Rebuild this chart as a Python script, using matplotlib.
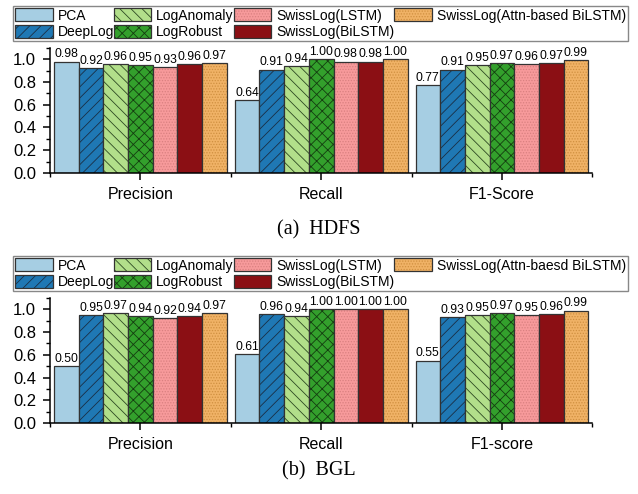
import numpy as np
import matplotlib.pyplot as plt
from matplotlib.patches import Patch
from matplotlib.legend_handler import HandlerTuple
from matplotlib.ticker import MultipleLocator, FixedLocator

plt.rcParams['font.family'] = ['Liberation Sans', 'DejaVu Sans']
plt.rcParams['hatch.linewidth'] = 0.6

metrics_hdfs = ["Precision", "Recall", "F1-Score"]
metrics_bgl = ["Precision", "Recall", "F1-score"]

methods_hdfs = ["PCA", "DeepLog", "LogAnomaly", "LogRobust", "SwissLog(LSTM)",
                "SwissLog(BiLSTM)", "SwissLog(Attn-based BiLSTM)"]
methods_bgl = ["PCA", "DeepLog", "LogAnomaly", "LogRobust", "SwissLog(LSTM)",
               "SwissLog(BiLSTM)", "SwissLog(Attn-baesd BiLSTM)"]

# rows = methods, cols = Precision / Recall / F1
hdfs = [
    [0.98, 0.64, 0.77],
    [0.92, 0.91, 0.91],
    [0.96, 0.94, 0.95],
    [0.95, 1.00, 0.97],
    [0.93, 0.98, 0.96],
    [0.96, 0.98, 0.97],
    [0.97, 1.00, 0.99],
]
bgl = [
    [0.50, 0.61, 0.55],
    [0.95, 0.96, 0.93],
    [0.97, 0.94, 0.95],
    [0.94, 1.00, 0.97],
    [0.92, 1.00, 0.95],
    [0.94, 1.00, 0.96],
    [0.97, 1.00, 0.99],
]

colors = ["#a6cee3", "#1f78b4", "#b2df8a", "#33a02c", "#f79a9b", "#8b0f14", "#f0b266"]
hatches = ["", "///", "\\\\\\", "xxx", "......", "", "......"]
hatch_colors = ["#333333", "#1a2f45", "#2d4a22", "#143d10", "#d98080", "#8b0f14", "#d09040"]
edge = "#333333"

fig = plt.figure(figsize=(6.38, 4.94), dpi=100)


def draw_panel(rect, values, metrics, methods, caption, cap_y, leg_rect):
    ax = fig.add_axes(rect)
    x = np.arange(len(metrics))
    w = 0.956 / len(methods)
    handles = []
    for i, (name, vals) in enumerate(zip(methods, values)):
        pos = x - 0.478 + w * (i + 0.5)
        ax.bar(pos, vals, w, color=colors[i], edgecolor=hatch_colors[i],
               hatch=hatches[i], linewidth=0)
        ax.bar(pos, vals, w, fill=False, edgecolor=edge, linewidth=0.9)
        for px, v in zip(pos, vals):
            ax.text(px, v + 0.01, f"{v:.2f}", ha="center", va="bottom", fontsize=8.7)
        handles.append((Patch(facecolor=colors[i], edgecolor=hatch_colors[i],
                              hatch=hatches[i], linewidth=0),
                        Patch(fill=False, edgecolor=edge, linewidth=0.9)))
    ax.set_xlim(-0.5, 2.5)
    ax.set_ylim(0, 1.1)
    ax.set_xticks(x)
    ax.set_xticklabels(metrics, fontsize=11.5)
    ax.xaxis.set_minor_locator(FixedLocator([-0.5, 0.5, 1.5, 2.5]))
    ax.yaxis.set_minor_locator(MultipleLocator(0.1))
    ax.set_yticks(np.arange(0, 1.01, 0.2))
    ax.set_yticklabels([f"{t:.1f}" for t in np.arange(0, 1.01, 0.2)], fontsize=12)
    ax.tick_params(which="major", length=5, width=1.1, pad=5)
    ax.tick_params(which="minor", length=3, width=1.0)
    ax.tick_params(axis="x", which="major", pad=5)
    for s in ["top", "right"]:
        ax.spines[s].set_visible(False)
    for s in ["left", "bottom"]:
        ax.spines[s].set_linewidth(1.1)
    fig.legend(handles, methods, handler_map={tuple: HandlerTuple(ndivide=1)},
               loc="lower left", bbox_to_anchor=leg_rect, mode="expand", ncol=4,
               borderaxespad=0, fontsize=10, handlelength=2.7, handleheight=1.05,
               handletextpad=0.35, labelspacing=0.15, borderpad=0.15,
               columnspacing=0.5, fancybox=False, edgecolor="#888888",
               framealpha=1)
    fig.text(0.5, cap_y, caption, ha="center", va="center", fontsize=14.5,
             family="Liberation Serif")
    return ax


draw_panel([0.0784, 0.650, 0.850, 0.253], hdfs, metrics_hdfs, methods_hdfs,
           "(a)  HDFS", 1 - 230 / 494, (0.0204, 0.917, 0.964, 0.077))
draw_panel([0.0784, 0.1437, 0.850, 0.253], bgl, metrics_bgl, methods_bgl,
           "(b)  BGL", 1 - 471 / 494, (0.0204, 0.411, 0.964, 0.079))

fig.savefig("out.png", dpi=100)
